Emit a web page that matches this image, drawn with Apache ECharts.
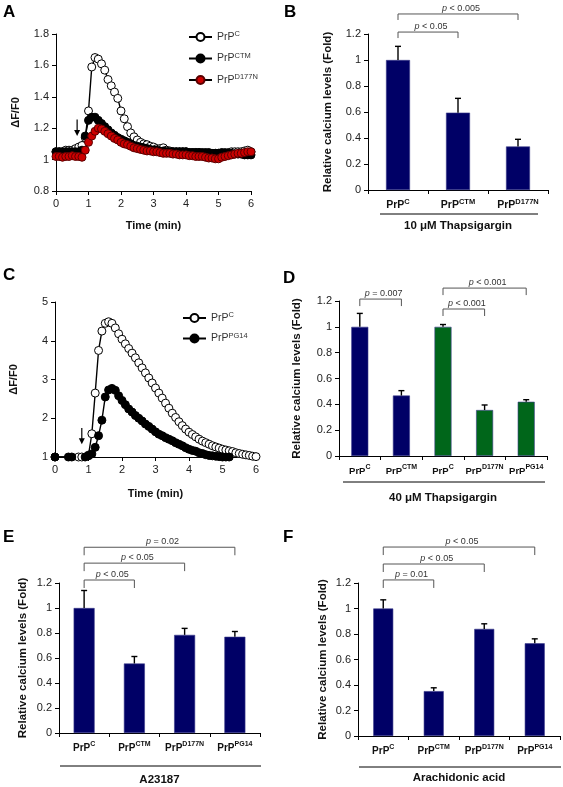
<!DOCTYPE html>
<html><head><meta charset="utf-8">
<script src="https://cdn.jsdelivr.net/npm/echarts/dist/echarts.min.js"></script>
<style>html,body{margin:0;padding:0;background:#fff}#c{width:563px;height:787px}</style>
</head><body><div id="c"></div>
<script>
// ---------------- DATA ----------------
const timeMin = [0,0.1,0.2,0.3,0.4,0.5,0.6,0.7,0.8,0.9,1.0,1.1,1.2,1.3,1.4,1.5,1.6,1.7,1.8,1.9,2.0,2.1,2.2,2.3,2.4,2.5,2.6,2.7,2.8,2.9,3.0,3.1,3.2,3.3,3.4,3.5,3.6,3.7,3.8,3.9,4.0,4.1,4.2,4.3,4.4,4.5,4.6,4.7,4.8,4.9,5.0,5.1,5.2,5.3,5.4,5.5,5.6,5.7,5.8,5.9,6.0];

// Panel A (10 uM thapsigargin traces)
const A_PrPC = [1.05,1.05,1.05,1.06,1.06,1.06,1.07,1.08,1.09,1.14,1.31,1.59,1.65,1.64,1.61,1.57,1.51,1.47,1.43,1.39,1.31,1.26,1.21,1.17,1.145,1.125,1.11,1.10,1.095,1.085,1.08,1.07,1.07,1.075,1.06,1.055,1.05,1.05,1.05,1.05,1.05,1.045,1.045,1.045,1.045,1.04,1.04,1.04,1.04,1.04,1.04,1.04,1.045,1.045,1.05,1.05,1.05,1.05,1.055,1.06,1.05];
const A_PrPCTM = [1.05,1.05,1.05,1.05,1.05,1.05,1.05,1.05,1.06,1.15,1.25,1.27,1.27,1.25,1.23,1.21,1.19,1.17,1.155,1.14,1.13,1.12,1.11,1.10,1.09,1.085,1.08,1.075,1.07,1.065,1.06,1.06,1.055,1.055,1.05,1.05,1.05,1.05,1.05,1.05,1.05,1.045,1.045,1.045,1.045,1.045,1.045,1.045,1.04,1.04,1.04,1.045,1.04,1.04,1.04,1.035,1.035,1.035,1.03,1.03,1.03];
const A_PrPD177N = [1.02,1.02,1.015,1.02,1.02,1.025,1.02,1.02,1.015,1.06,1.11,1.15,1.18,1.20,1.195,1.18,1.165,1.15,1.135,1.125,1.11,1.10,1.095,1.085,1.075,1.07,1.065,1.06,1.055,1.055,1.05,1.05,1.045,1.04,1.04,1.04,1.035,1.035,1.03,1.03,1.03,1.025,1.025,1.02,1.02,1.02,1.015,1.01,1.01,1.005,1.005,1.015,1.02,1.025,1.03,1.035,1.04,1.04,1.045,1.05,1.05];

// Panel C (40 uM thapsigargin traces)
const C_PrPC = [1.0,null,null,null,null,null,null,1.0,1.0,null,1.05,1.6,2.65,3.75,4.25,4.45,4.49,4.45,4.33,4.18,4.04,3.92,3.80,3.68,3.56,3.43,3.30,3.17,3.04,2.91,2.78,2.65,2.52,2.39,2.26,2.13,2.02,1.91,1.81,1.72,1.64,1.58,1.52,1.46,1.41,1.37,1.33,1.29,1.26,1.23,1.20,1.18,1.16,1.14,1.11,1.09,1.07,1.055,1.04,1.02,1.01];
const C_PrPPG14 = [1.0,null,null,null,1.0,1.0,null,null,null,1.0,1.03,1.08,1.25,1.55,1.95,2.55,2.73,2.77,2.72,2.58,2.46,2.35,2.24,2.16,2.07,2.0,1.93,1.85,1.79,1.72,1.65,1.59,1.55,1.50,1.46,1.42,1.37,1.33,1.29,1.24,1.20,1.17,1.15,1.11,1.09,1.06,1.04,1.03,1.02,1.01,1.0,1.0,1.0,null,null,null,null,null,null,null,null];

// arrows: [time, top value, tip value]
const arrowA = [0.65, 1.255, 1.15];
const arrowC = [0.8, 1.75, 1.33];

// Panel B
const catB = ['C','CTM','D177N'];
const meanB = [1.0, 0.595, 0.335];
const errB = [0.105, 0.11, 0.055];
const groupB = '10 \u03bcM Thapsigargin';
const bracketsB = [{from:0,to:1,y:1.215,label:'< 0.05'},{from:0,to:2,y:1.354,label:'< 0.005'}];

// Panel D
const catD = ['C','CTM','C','D177N','PG14'];
const setD = [0,0,1,1,1];
const meanD = [1.0, 0.468, 1.0, 0.356, 0.42];
const errD = [0.104, 0.038, 0.018, 0.039, 0.016];
const groupD = '40 \u03bcM Thapsigargin';
const bracketsD = [{from:0,to:1,y:1.215,label:'= 0.007'},{from:2,to:4,y:1.30,label:'< 0.001'},{from:2,to:3,y:1.138,label:'< 0.001'}];

// Panel E
const catE = ['C','CTM','D177N','PG14'];
const meanE = [1.0, 0.556, 0.785, 0.77];
const errE = [0.14, 0.056, 0.052, 0.042];
const groupE = 'A23187';
const bracketsE = [{from:0,to:1,y:1.224,label:'< 0.05'},{from:0,to:2,y:1.359,label:'< 0.05'},{from:0,to:3,y:1.486,label:'= 0.02'}];

// Panel F
const catF = ['C','CTM','D177N','PG14'];
const meanF = [1.0, 0.352, 0.84, 0.727];
const errF = [0.068, 0.026, 0.04, 0.035];
const groupF = 'Arachidonic acid';
const bracketsF = [{from:0,to:1,y:1.224,label:'= 0.01'},{from:0,to:2,y:1.349,label:'< 0.05'},{from:0,to:3,y:1.482,label:'< 0.05'}];

const panelLetters = ['A','B','C','D','E','F'];

// ---------------- STYLE ----------------
const FONT = '"Liberation Sans", Arial, sans-serif';
const NAVY = '#000066', GREEN = '#00661a';
const SET_COLORS = [NAVY, GREEN];
const LETTER_POS = [[3,4],[284,4],[3,267],[283,270],[3,529],[283,529]];
const YNAME = 'Relative calcium levels (Fold)';

function makeCatRich(big, small) {
  return {
    b: {fontFamily: FONT, fontWeight: 'bold', fontSize: big, color: '#111', lineHeight: 14},
    s: {fontFamily: FONT, fontWeight: 'bold', fontSize: small, color: '#111', lineHeight: 9, verticalAlign: 'top'}
  };
}
const legRich = {
  n: {fontFamily: FONT, fontSize: 10.5, color: '#333', lineHeight: 14},
  s: {fontFamily: FONT, fontSize: 7.5, color: '#333', lineHeight: 9, verticalAlign: 'top'}
};
const legendText = {A_C:'C', A_CTM:'CTM', A_D177N:'D177N', C_C:'C', C_PG14:'PG14'};

function baseAxis(extra) {
  return Object.assign({
    axisLine: {show: true, onZero: false, lineStyle: {color: '#000', width: 1}},
    axisTick: {show: true, inside: false, length: 4, lineStyle: {color: '#000', width: 1}},
    axisLabel: {color: '#222', fontSize: 11, fontFamily: FONT, margin: 7},
    splitLine: {show: false},
    nameLocation: 'middle',
    nameTextStyle: {fontFamily: FONT, fontWeight: 'bold', fontSize: 11, color: '#111'}
  }, extra);
}
function catAxis(gi, cats, groupName, nameGap, big, small) {
  return baseAxis({
    type: 'category', gridIndex: gi, data: cats.map((c, i) => String(i)),
    axisTick: {show: true, inside: false, length: 4, alignWithLabel: false, lineStyle: {color: '#000'}},
    axisLabel: {margin: 8, interval: 0, formatter: (v, i) => '{b|PrP}{s|' + cats[i] + '}', rich: makeCatRich(big, small)},
    name: groupName, nameGap: nameGap,
    nameTextStyle: {fontFamily: FONT, fontWeight: 'bold', fontSize: 11.5, color: '#111'}
  });
}
function fracAxis(gi, nameGap) {
  return baseAxis({type: 'value', gridIndex: gi, min: 0, max: 1.2, interval: 0.2, name: YNAME, nameGap: nameGap,
    nameTextStyle: {fontFamily: FONT, fontWeight: 'bold', fontSize: 11.5, color: '#111'}});
}
function lineSeries(name, gi, vals, fill, border) {
  return {
    type: 'line', name: name, xAxisIndex: gi, yAxisIndex: gi,
    data: timeMin.map((t, i) => [t, vals[i]]),
    connectNulls: true, clip: false,
    symbol: 'circle', symbolSize: 8, showSymbol: true, showAllSymbol: true,
    itemStyle: {color: fill, borderColor: border, borderWidth: 1},
    lineStyle: {color: '#000', width: 1.4},
    emphasis: {disabled: true}
  };
}
function barSeries(gi, means, colorOf, width) {
  return {
    type: 'bar', xAxisIndex: gi, yAxisIndex: gi, barWidth: width,
    data: means.map((v, i) => ({value: v, itemStyle: {color: colorOf(i)}})),
    itemStyle: {borderColor: '#3c3c8c', borderWidth: 0.6},
    emphasis: {disabled: true}, z: 2
  };
}
function errSeries(gi, means, errs) {
  return {
    type: 'custom', xAxisIndex: gi, yAxisIndex: gi, clip: false, silent: true, z: 3,
    data: means.map((m, i) => [i, m, m + errs[i]]),
    encode: {x: 0, y: [1, 2]},
    renderItem(params, api) {
      const b = api.coord([api.value(0), api.value(1)]);
      const t = api.coord([api.value(0), api.value(2)]);
      return {type: 'group', children: [
        {type: 'line', shape: {x1: b[0], y1: b[1], x2: t[0], y2: t[1]}, style: {stroke: '#000', lineWidth: 1.4}},
        {type: 'line', shape: {x1: t[0] - 3, y1: t[1], x2: t[0] + 3, y2: t[1]}, style: {stroke: '#000', lineWidth: 1.4}}
      ]};
    }
  };
}
function bracketSeries(gi, list, tick) {
  return {
    type: 'custom', xAxisIndex: gi, yAxisIndex: gi, clip: false, silent: true, z: 4,
    data: list.map(b => [b.from, b.to, b.y]),
    encode: {x: [0, 1], y: 2},
    renderItem(params, api) {
      const lab = list[params.dataIndex].label;
      const p1 = api.coord([api.value(0), api.value(2)]);
      const p2 = api.coord([api.value(1), api.value(2)]);
      return {type: 'group', children: [
        {type: 'polyline', shape: {points: [[p1[0], p1[1] + tick], [p1[0], p1[1]], [p2[0], p2[1]], [p2[0], p2[1] + tick]]},
         style: {stroke: '#555', lineWidth: 1, fill: null}},
        {type: 'text', x: (p1[0] + p2[0]) / 2 + 3, y: p1[1] - 1,
         style: {text: '{i|p} ' + lab, align: 'center', verticalAlign: 'bottom',
                 fontFamily: FONT, fontSize: 9, fill: '#333',
                 rich: {i: {fontStyle: 'italic', fontFamily: FONT, fontSize: 9, fill: '#333'}}}}
      ]};
    }
  };
}
function underlineSeries(gi, insetL, insetR, offset) {
  return {
    type: 'custom', xAxisIndex: gi, yAxisIndex: gi, clip: false, silent: true,
    data: [[0, 0]], encode: {x: 0, y: 1},
    renderItem(params, api) {
      const cs = params.coordSys;
      const y = cs.y + cs.height + offset;
      return {type: 'line', shape: {x1: cs.x + insetL, y1: y, x2: cs.x + cs.width - insetR, y2: y},
              style: {stroke: '#000', lineWidth: 1}};
    }
  };
}
function arrowSeries(gi, arr) {
  return {
    type: 'custom', xAxisIndex: gi, yAxisIndex: gi, clip: false, silent: true, z: 6,
    data: [arr], encode: {x: 0, y: [1, 2]},
    renderItem(params, api) {
      const a = api.coord([api.value(0), api.value(1)]);
      const b = api.coord([api.value(0), api.value(2)]);
      return {type: 'group', children: [
        {type: 'line', shape: {x1: a[0], y1: a[1], x2: b[0], y2: b[1] - 4}, style: {stroke: '#000', lineWidth: 1.2}},
        {type: 'polygon', shape: {points: [[b[0] - 3, b[1] - 6], [b[0] + 3, b[1] - 6], [b[0], b[1]]]}, style: {fill: '#000'}}
      ]};
    }
  };
}

const option = {
  animation: false,
  backgroundColor: '#fff',
  title: panelLetters.map((t, i) => ({
    text: t, left: LETTER_POS[i][0], top: LETTER_POS[i][1], padding: 0,
    textStyle: {fontFamily: FONT, fontWeight: 'bold', fontSize: 17, color: '#000'}
  })),
  legend: [
    {data: ['A_C', 'A_CTM', 'A_D177N'], orient: 'vertical', left: 183, top: 25, itemWidth: 23, itemHeight: 10, itemGap: 9,
     selectedMode: false, formatter: n => '{n|PrP}{s|' + legendText[n] + '}', textStyle: {rich: legRich}},
    {data: ['C_C', 'C_PG14'], orient: 'vertical', left: 177, top: 306, itemWidth: 23, itemHeight: 10, itemGap: 8,
     selectedMode: false, formatter: n => '{n|PrP}{s|' + legendText[n] + '}', textStyle: {rich: legRich}}
  ],
  grid: [
    {left: 56, top: 34, width: 195, height: 157},
    {left: 368, top: 34, width: 180, height: 156},
    {left: 55, top: 302, width: 201, height: 155},
    {left: 339, top: 301, width: 208, height: 155},
    {left: 59, top: 583, width: 201, height: 151},
    {left: 358, top: 583, width: 202, height: 153}
  ],
  xAxis: [
    baseAxis({type: 'value', gridIndex: 0, min: 0, max: 6, interval: 1, name: 'Time (min)', nameGap: 29}),
    catAxis(1, catB, groupB, 30, 10.5, 7.5),
    baseAxis({type: 'value', gridIndex: 2, min: 0, max: 6, interval: 1, name: 'Time (min)', nameGap: 31}),
    catAxis(3, catD, groupD, 36, 9.5, 7),
    catAxis(4, catE, groupE, 41, 10, 7),
    catAxis(5, catF, groupF, 36, 10, 7)
  ],
  yAxis: [
    baseAxis({type: 'value', gridIndex: 0, min: 0.8, max: 1.8, interval: 0.2, name: '\u0394F/F0', nameGap: 35}),
    fracAxis(1, 34),
    baseAxis({type: 'value', gridIndex: 2, min: 1, max: 5, interval: 1, name: '\u0394F/F0', nameGap: 36}),
    fracAxis(3, 36),
    fracAxis(4, 30),
    fracAxis(5, 29)
  ],
  series: [
    lineSeries('A_C', 0, A_PrPC, '#fff', '#000'),
    lineSeries('A_CTM', 0, A_PrPCTM, '#000', '#000'),
    lineSeries('A_D177N', 0, A_PrPD177N, '#cc0000', '#5a0000'),
    arrowSeries(0, arrowA),
    lineSeries('C_C', 2, C_PrPC, '#fff', '#000'),
    lineSeries('C_PG14', 2, C_PrPPG14, '#000', '#000'),
    arrowSeries(2, arrowC),

    barSeries(1, meanB, () => NAVY, 24),
    errSeries(1, meanB, errB),
    bracketSeries(1, bracketsB, 6),
    underlineSeries(1, 12, 10, 24),

    barSeries(3, meanD, i => SET_COLORS[setD[i]], 17),
    errSeries(3, meanD, errD),
    bracketSeries(3, bracketsD, 7),
    underlineSeries(3, 4, 2, 26),

    barSeries(4, meanE, () => NAVY, 21),
    errSeries(4, meanE, errE),
    bracketSeries(4, bracketsE, 8),
    underlineSeries(4, 1, -1, 33),

    barSeries(5, meanF, () => NAVY, 20),
    errSeries(5, meanF, errF),
    bracketSeries(5, bracketsF, 8),
    underlineSeries(5, 1, -1, 31)
  ]
};
const chart = echarts.init(document.getElementById('c'), null, {renderer: 'canvas', width: 563, height: 787});
chart.setOption(option);
</script>
</body></html>
